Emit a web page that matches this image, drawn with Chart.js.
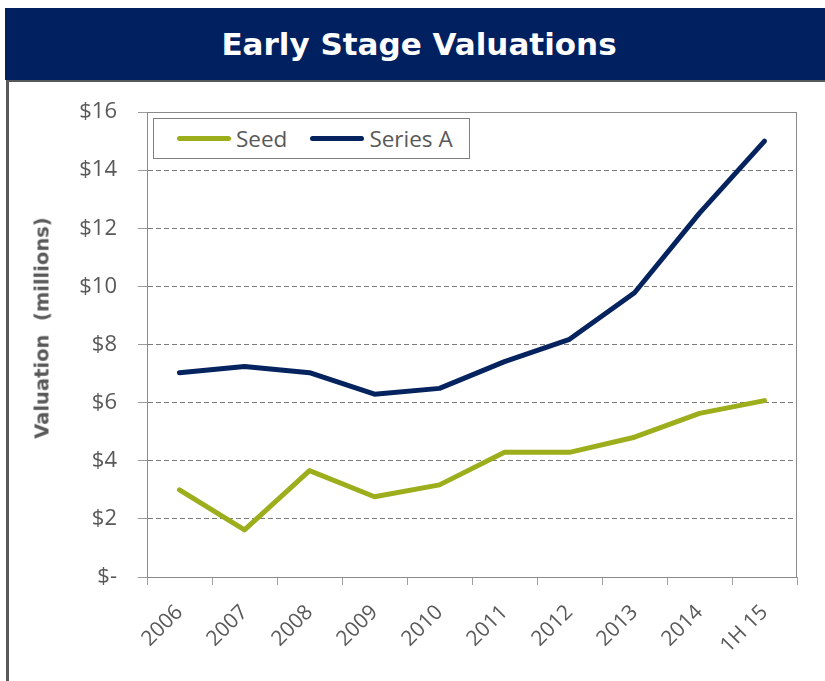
<!DOCTYPE html>
<html><head><meta charset="utf-8">
<script src="https://cdn.jsdelivr.net/npm/chart.js@4.4.1/dist/chart.umd.min.js"></script>
<style>
html,body{margin:0;padding:0;background:#fff;}
#wrap{position:relative;width:825px;height:681px;overflow:hidden;background:#fff;}
#banner{position:absolute;left:5px;top:8px;width:820px;height:72px;background:#002060;color:#fff;font:bold 31px "DejaVu Sans",sans-serif;display:flex;align-items:center;justify-content:center;padding-left:8px;box-sizing:border-box;z-index:2;}
#frame{position:absolute;left:6px;top:80px;width:819px;height:601px;border-left:3px solid #58595b;border-top:2px solid #58595b;box-sizing:border-box;z-index:1;pointer-events:none;}
#c{position:absolute;left:0;top:0;}
#ytitle{position:absolute;left:42px;top:328px;transform:translate(-50%,-50%) rotate(-90deg);font:bold 19.5px "DejaVu Sans",sans-serif;color:#595959;white-space:pre;z-index:3;}
#legend{position:absolute;left:153px;top:118px;width:317px;height:41px;border:1px solid #7f7f7f;box-sizing:border-box;background:#fff;z-index:3;display:flex;align-items:center;padding-left:23px;font:22.5px "Open Sans",sans-serif;color:#595959;white-space:nowrap;}
.item{display:flex;align-items:center;margin-right:23px;white-space:nowrap;flex:none;}
.swatch{width:54px;height:5px;border-radius:3px;margin-right:5px;}
</style>
</head>
<body>
<div id="wrap">
  <canvas id="c" width="825" height="681"></canvas>
  <div id="frame"></div>
  <div id="banner">Early Stage Valuations</div>
  <div id="ytitle">Valuation  (millions)</div>
  <div id="legend"></div>
</div>
<script>
const categories = ['2006','2007','2008','2009','2010','2011','2012','2013','2014','1H 15'];
const seedValues = [3.0, 1.62, 3.66, 2.76, 3.17, 4.29, 4.29, 4.81, 5.63, 6.07];
const seriesAValues = [7.03, 7.24, 7.03, 6.29, 6.49, 7.41, 8.18, 9.78, 12.52, 15.0];
const yTickLabels = ['$-','$2','$4','$6','$8','$10','$12','$14','$16'];
const seriesNames = ['Seed','Series A'];
const seriesColors = ['#9dae1c','#05245f'];

// HTML legend built from series names / colors
const leg = document.getElementById('legend');
seriesNames.forEach((n,i)=>{
  const it = document.createElement('div'); it.className='item';
  const sw = document.createElement('div'); sw.className='swatch'; sw.style.background=seriesColors[i];
  const tx = document.createElement('span'); tx.textContent=n;
  it.appendChild(sw); it.appendChild(tx); leg.appendChild(it);
});

const plotFrame = {
  id:'plotFrame',
  beforeDatasetsDraw(chart){
    const {ctx, chartArea:a} = chart;
    ctx.save();
    ctx.strokeStyle='#8a8a8a'; ctx.lineWidth=1;
    ctx.strokeRect(Math.round(a.left)+0.5, Math.round(a.top)+0.5, Math.round(a.right-a.left)-1, Math.round(a.bottom-a.top));
    ctx.restore();
  }
};

function draw(){
  new Chart(document.getElementById('c'), {
    type:'line',
    data:{
      labels: categories,
      datasets:[
        {label:seriesNames[0], data:seedValues, borderColor:seriesColors[0], backgroundColor:seriesColors[0], borderWidth:5, pointRadius:0, tension:0, borderJoinStyle:'round', borderCapStyle:'round'},
        {label:seriesNames[1], data:seriesAValues, borderColor:seriesColors[1], backgroundColor:seriesColors[1], borderWidth:5, pointRadius:0, tension:0, borderJoinStyle:'round', borderCapStyle:'round'}
      ]
    },
    options:{
      responsive:false, animation:false,
      layout:{padding:{top:112, right:28, bottom:0, left:0}},
      plugins:{legend:{display:false}, tooltip:{enabled:false}},
      scales:{
        x:{
          type:'category', offset:true,
          grid:{display:true, drawOnChartArea:false, drawTicks:true, tickLength:8, offset:true, color:'#a0a0a0', tickColor:'#a0a0a0'},
          border:{display:true, color:'#a0a0a0', width:1},
          ticks:{minRotation:45, maxRotation:45, autoSkip:false, color:'#595959', font:{family:'Open Sans', size:21}, padding:15},
          afterFit(s){ s.height = 104; }
        },
        y:{
          min:0, max:16,
          ticks:{stepSize:2, callback:(v,i)=>yTickLabels[i], color:'#595959', font:{family:'Open Sans', size:22}, padding:21},
          grid:{color:'#7a7a7a', tickColor:'#9a9a9a', tickLength:9, drawTicks:true, tickBorderDash:[]},
          border:{display:true, color:'#8a8a8a', width:1, dash:[5,3]},
          afterFit(s){ s.width = 147; }
        }
      }
    },
    plugins:[plotFrame]
  });
}
Promise.all([
  document.fonts.load('22px "Open Sans"'),
  document.fonts.load('bold 20px "DejaVu Sans"')
]).then(draw, draw);
</script>
</body></html>
